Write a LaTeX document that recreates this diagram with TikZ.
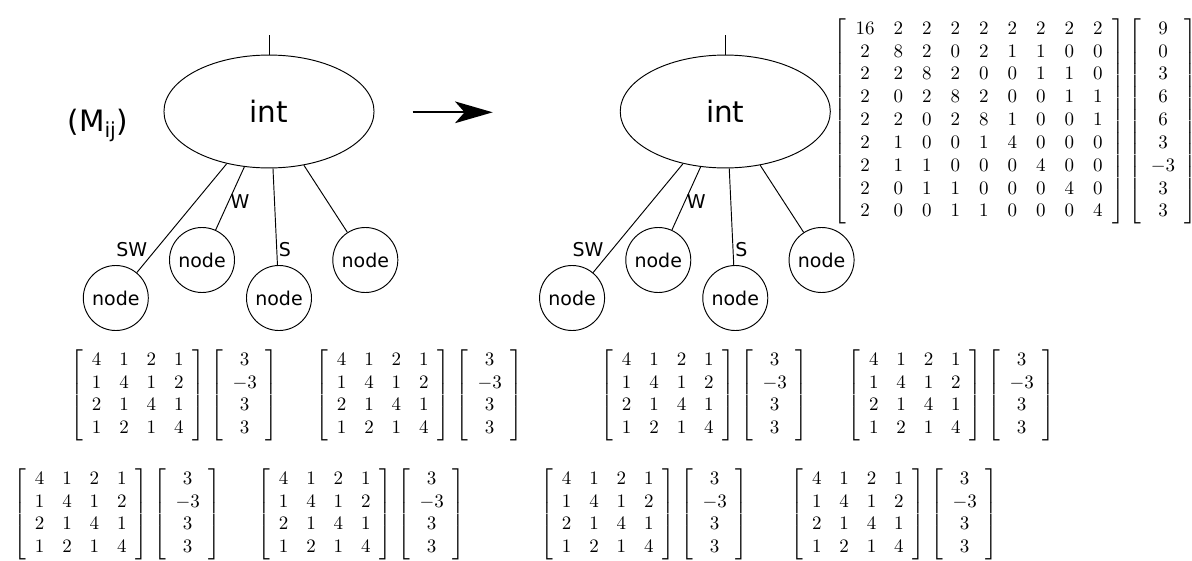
\documentclass[tikz,border=0pt]{standalone}
\usepackage{amsmath}
\usepackage{fontspec}
\newfontfamily\dv{DejaVu Sans}
\usetikzlibrary{shapes.geometric,arrows.meta}
\newcommand\brmat[2]{{\left[\begin{array}{#1}#2\end{array}\right]}}
\newcommand\smallpair{\setlength\arraycolsep{4.7pt}$\brmat{cccc}{4&1&2&1\\1&4&1&2\\2&1&4&1\\1&2&1&4}\hspace{3pt}\brmat{c}{3\\-3\\3\\3}$}
\newcommand\bigpair{$\brmat{ccccccccc}{
16&2&2&2&2&2&2&2&2\\
2&8&2&0&2&1&1&0&0\\
2&2&8&2&0&0&1&1&0\\
2&0&2&8&2&0&0&1&1\\
2&2&0&2&8&1&0&0&1\\
2&1&0&0&1&4&0&0&0\\
2&1&1&0&0&0&4&0&0\\
2&0&1&1&0&0&0&4&0\\
2&0&0&1&1&0&0&0&4}\hspace{2pt}\brmat{c}{9\\0\\3\\6\\6\\3\\-3\\3\\3}$}
\newcommand\mytree{%
  \node[intnode] (e) at (269,111.5) {int};
  \coordinate (top) at (269,35);
  \node[leaf] (c1) at (115.8,298) {node};
  \node[leaf] (c2) at (202,260) {node};
  \node[leaf] (c3) at (279,298) {node};
  \node[leaf] (c4) at (365.3,260) {node};
  \draw[edgeline] (top) -- (e.north);
  \draw[edgeline] (e.-129) -- (c1);
  \draw[edgeline] (e.-114) -- (c2);
  \draw[edgeline] (e.-86.3) -- (c3);
  \draw[edgeline] (e.-57.1) -- (c4);
  \node[lbl] (lsw) at (131.7,250) {SW};
  \node[lbl] (lw) at (240,201.7) {W};
  \node[lbl] (ls) at (285,249.5) {S};
}
\begin{document}
\begin{tikzpicture}[x=0.526pt,y=-0.526pt,
  intnode/.style={draw, ellipse, line width=0.5pt, minimum width=110.5pt, minimum height=59.4pt, inner sep=0pt, font=\dv\fontsize{15.5}{18}\selectfont},
  leaf/.style={draw, circle, line width=0.5pt, minimum size=34.2pt, inner sep=0pt, font=\dv\fontsize{10}{12}\selectfont},
  edgeline/.style={line width=0.5pt},
  lbl/.style={font=\dv\fontsize{10}{12}\selectfont, inner sep=0pt},
  mat/.style={inner sep=0pt, anchor=west},
  bigarrow/.style={line width=1.2pt, -{Stealth[length=19.8pt,width=11.4pt,inset=5pt]}}]
\useasboundingbox (0,0) rectangle (1192,560);
\begin{scope}[name prefix=L-]
  \mytree
\end{scope}
\begin{scope}[xshift=240pt, name prefix=R-]
  \mytree
\end{scope}
\node[font=\dv\fontsize{15.5}{18}\selectfont, anchor=base, inner sep=0pt] (mij) at (98,131.7) {(M\textsubscript{ij})};
\coordinate (a1) at (412.7,112.3);
\coordinate (a2) at (492.7,112.3);
\draw[bigarrow] (a1) -- (a2);
\node[mat] (big) at (833,121) {\bigpair};
\node[mat] (m1) at (70,395) {\smallpair};
\node[mat] (m2) at (315,395) {\smallpair};
\node[mat] (m3) at (600,395) {\smallpair};
\node[mat] (m4) at (847,395) {\smallpair};
\node[mat] (m5) at (13,514) {\smallpair};
\node[mat] (m6) at (257,514) {\smallpair};
\node[mat] (m7) at (540,514) {\smallpair};
\node[mat] (m8) at (790,514) {\smallpair};
\end{tikzpicture}
\end{document}
